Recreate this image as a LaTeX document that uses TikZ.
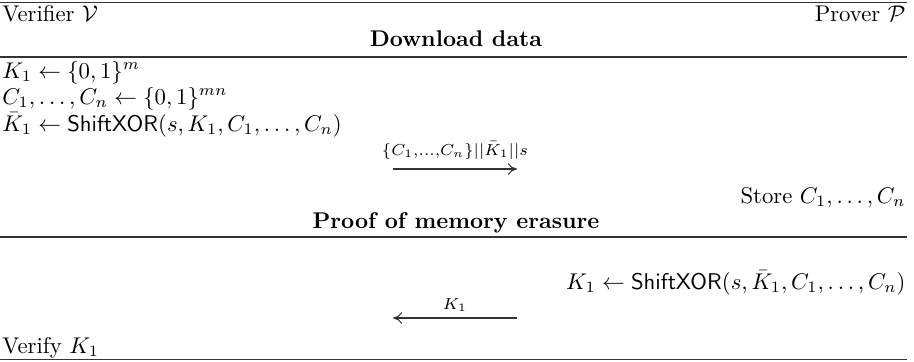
\documentclass[tikz,border=0pt]{standalone}
\usepackage{amsmath}
\usetikzlibrary{arrows.meta}
\begin{document}
\begin{tikzpicture}[x=0.44pt,y=-0.44pt,
  txt/.style={inner sep=0pt, font=\fontsize{10}{12}\selectfont},
  lbl/.style={inner sep=0pt, font=\fontsize{10}{12}\selectfont},
  rulel/.style={line width=0.7pt, black!80},
  msg/.style={line width=0.45pt, black!80, -{To[length=4pt,width=5pt]}}]
\useasboundingbox (0,0) rectangle (914,361);
% rules
\coordinate (t0) at (0,2.5);   \coordinate (t1) at (907,2.5);
\coordinate (a0) at (0,57);    \coordinate (a1) at (907,57);
\coordinate (b0) at (0,237);   \coordinate (b1) at (907,237);
\coordinate (c0) at (0,359.5); \coordinate (c1) at (907,359.5);
\draw[rulel] (t0) -- (t1);
\draw[rulel] (a0) -- (a1);
\draw[rulel] (b0) -- (b1);
\draw[rulel] (c0) -- (c1);
% header
\node[txt, anchor=base west] (ver) at (2,21) {Verifier $\mathcal{V}$};
\node[txt, anchor=base east] (prov) at (906,21) {Prover $\mathcal{P}$};
\node[txt, anchor=base] (dl) at (456,46) {\textbf{Download data}};
% verifier lines
\node[txt, anchor=base west] (v1) at (2,78) {$K_1 \leftarrow \{0,1\}^m$};
\node[txt, anchor=base west] (v2) at (2,104) {$C_1,\dots,C_n \leftarrow \{0,1\}^{mn}$};
\node[txt, anchor=base west] (v3) at (2,131) {$\bar{K}_1 \leftarrow \mathsf{ShiftXOR}(s,K_1,C_1,\dots,C_n)$};
% message 1
\coordinate (m1s) at (393,169);
\coordinate (m1e) at (517,169);
\draw[msg] (m1s) -- (m1e);
\node[lbl, anchor=base] (l1) at (455,155) {$\scriptstyle \{C_1,\dots,C_n\}||\bar{K}_1||s$};
\node[txt, anchor=base east] (st) at (906,203) {Store $C_1,\dots,C_n$};
\node[txt, anchor=base] (pm) at (456,228) {\textbf{Proof of memory erasure}};
% proof
\node[txt, anchor=base east] (p1) at (906,289) {$K_1 \leftarrow \mathsf{ShiftXOR}(s,\bar{K}_1,C_1,\dots,C_n)$};
\coordinate (m2s) at (517,318);
\coordinate (m2e) at (393,318);
\draw[msg] (m2s) -- (m2e);
\node[lbl, anchor=base] (l2) at (455,309) {$\scriptstyle K_1$};
\node[txt, anchor=base west] (vf) at (2,353) {Verify $K_1$};
\end{tikzpicture}
\end{document}
